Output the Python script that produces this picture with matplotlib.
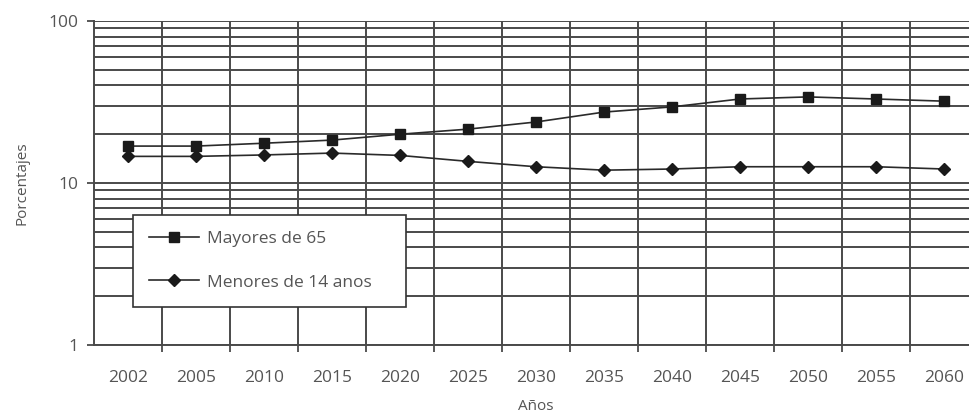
from matplotlib import pyplot as plt
from matplotlib.ticker import FixedLocator, NullFormatter, LogLocator

years = ['2002', '2005', '2010', '2015', '2020', '2025', '2030',
         '2035', '2040', '2045', '2050', '2055', '2060']
mayores_65 = [16.9, 16.9, 17.6, 18.4, 20.0, 21.5, 23.8, 27.4, 29.5, 33.0, 34.0, 33.0, 32.0]
menores_14 = [14.6, 14.6, 14.9, 15.3, 14.8, 13.6, 12.6, 12.0, 12.2, 12.6, 12.6, 12.6, 12.2]

TEXT = '#555555'
GRID = '#4a4a4a'
LINE = '#2a2a2a'

plt.rcParams['font.family'] = ['Open Sans', 'DejaVu Sans']

fig = plt.figure(figsize = (9.69, 4.17), dpi = 100)
# plot area runs past the right edge, as in the reference
ax = fig.add_axes([94 / 969, 1 - 345 / 417, 884 / 969, 324 / 417])

x = range(len(years))
ax.plot(x, mayores_65, color = LINE, linewidth = 1.2, marker = 's',
        markersize = 7, markerfacecolor = '#1a1a1a', markeredgecolor = '#1a1a1a',
        label = 'Mayores de 65', zorder = 4)
ax.plot(x, menores_14, color = LINE, linewidth = 1.2, marker = 'D',
        markersize = 6, markerfacecolor = '#1a1a1a', markeredgecolor = '#1a1a1a',
        label = 'Menores de 14 anos', zorder = 4)

ax.set_yscale('log')
ax.set_ylim(1, 100)
ax.set_xlim(-0.5, len(years) - 0.5)

ax.yaxis.set_major_locator(FixedLocator([1, 10, 100]))
ax.set_yticklabels(['1', '10', '100'])
ax.yaxis.set_minor_locator(LogLocator(base = 10, subs = range(2, 10)))
ax.yaxis.set_minor_formatter(NullFormatter())

# category labels centred, ticks and vertical grid between categories
ax.set_xticks([i + 0.5 for i in range(len(years))])
ax.set_xticklabels([])
ax.set_xticks(list(x), minor = True)
ax.set_xticklabels(years, minor = True)
ax.tick_params(axis = 'x', which = 'minor', length = 0, pad = 18,
               labelsize = 12.5, labelcolor = TEXT)
ax.tick_params(axis = 'x', which = 'major', length = 5, width = 1.3, color = GRID)
ax.tick_params(axis = 'y', which = 'major', length = 5, width = 1.3, color = GRID,
               labelsize = 12.5, labelcolor = TEXT, pad = 6)
ax.tick_params(axis = 'y', which = 'minor', length = 0)

ax.grid(True, which = 'major', axis = 'x', color = GRID, linewidth = 1.4)
ax.grid(True, which = 'both', axis = 'y', color = GRID, linewidth = 1.4)

for side in ['top', 'right']:
    ax.spines[side].set_visible(False)
for side in ['left', 'bottom']:
    ax.spines[side].set_color(GRID)
    ax.spines[side].set_linewidth(1.4)

ax.set_ylabel('Porcentajes', fontsize = 11, color = TEXT, labelpad = 14)
ax.set_xlabel('Años', fontsize = 11, color = TEXT, labelpad = 9)

leg = ax.legend(loc = 'upper left',
                bbox_to_anchor = (133 / 969, 1 - 303 / 417, 273 / 969, 88 / 417),
                bbox_transform = fig.transFigure, borderaxespad = 0, mode = 'expand',
                fancybox = False, framealpha = 1, edgecolor = '#333333',
                fontsize = 12.5, labelspacing = 1.57, handlelength = 2.9,
                handletextpad = 0.45, borderpad = 0.92, labelcolor = TEXT)
leg.get_frame().set_linewidth(1.2)
leg.set_zorder(5)

fig.savefig('out.png', dpi = 100)
